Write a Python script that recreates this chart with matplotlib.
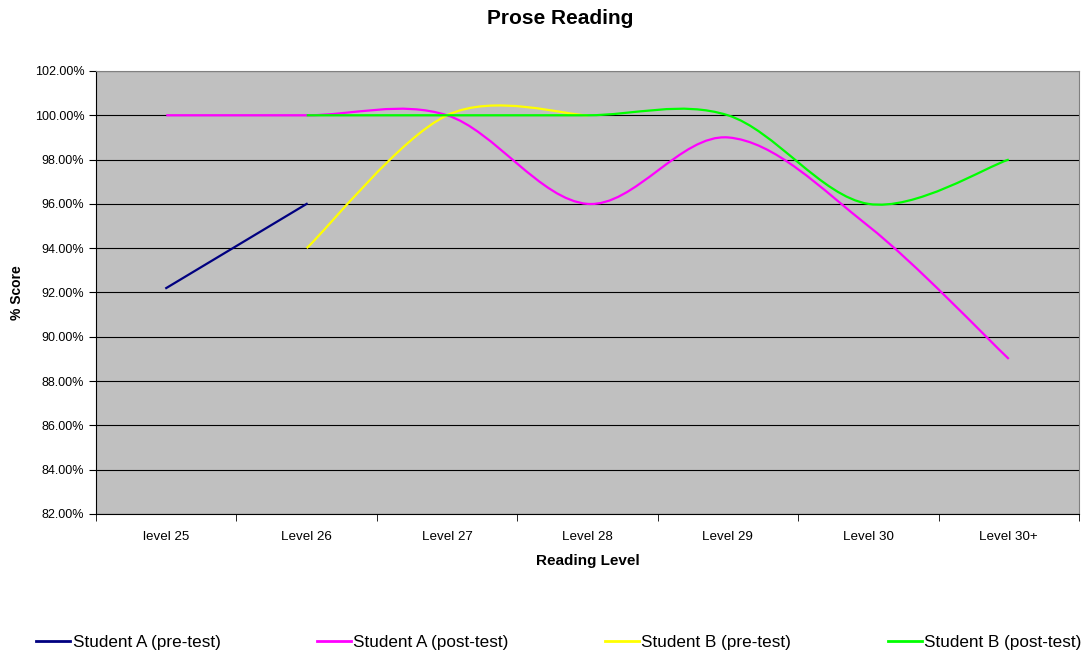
import matplotlib
matplotlib.use('Agg')
import matplotlib.pyplot as plt
from matplotlib.path import Path
from matplotlib.patches import PathPatch
from matplotlib.lines import Line2D
from matplotlib.ticker import FuncFormatter, FixedLocator
import numpy as np

plt.rcParams['font.family'] = ['Liberation Sans', 'DejaVu Sans']

# data
levels = ['level 25', 'Level 26', 'Level 27', 'Level 28', 'Level 29', 'Level 30', 'Level 30+']
a_pre = [92.2, 96.0, None, None, None, None, None]
a_post = [100.0, 100.0, 100.0, 96.0, 99.0, 95.0, 89.0]
b_pre = [None, 94.0, 100.0, 100.0, None, None, None]
b_post = [None, 100.0, 100.0, 100.0, 100.0, 96.0, 98.0]

series = [
    ('Student A (pre-test)', a_pre, '#000080', False),
    ('Student A (post-test)', a_post, '#FF00FF', True),
    ('Student B (pre-test)', b_pre, '#FFFF00', True),
    ('Student B (post-test)', b_post, '#00FF00', True),
]


def smooth_path(xs, ys):
    # excel-style smoothed line: cubic bezier with catmull-rom control points
    pts = np.column_stack([xs, ys]).astype(float)
    verts = [pts[0]]
    codes = [Path.MOVETO]
    n = len(pts)
    for i in range(n - 1):
        p0 = pts[i - 1] if i > 0 else pts[i]
        p1 = pts[i]
        p2 = pts[i + 1]
        p3 = pts[i + 2] if i + 2 < n else pts[i + 1]
        verts += [p1 + (p2 - p0) / 6.0, p2 - (p3 - p1) / 6.0, p2]
        codes += [Path.CURVE4] * 3
    return Path(verts, codes)


fig = plt.figure(figsize=(10.89, 6.53), dpi=100, facecolor='white')
ax = fig.add_axes([0.0882, 0.2129, 0.9026, 0.6784])
ax.set_facecolor('#C0C0C0')

x = np.arange(len(levels))
for name, vals, col, smooth in series:
    xs = [xi for xi, v in zip(x, vals) if v is not None]
    ys = [v for v in vals if v is not None]
    if smooth and len(xs) > 2:
        ax.add_patch(PathPatch(smooth_path(xs, ys), facecolor='none',
                               edgecolor=col, lw=1.6, zorder=3))
    else:
        ax.plot(xs, ys, color=col, lw=1.6, zorder=3)

ax.set_xlim(-0.5, len(levels) - 0.5)
ax.set_ylim(82, 102)
ax.set_yticks(np.arange(82, 102.1, 2))
ax.yaxis.set_major_formatter(FuncFormatter(lambda v, p: f'{v:.2f}%'))
ax.grid(axis='y', color='black', lw=0.8)
ax.set_axisbelow(True)

ax.set_xticks(x)
ax.set_xticklabels(levels)
ax.tick_params(axis='x', which='major', length=0, pad=12, labelsize=9.6)
ax.xaxis.set_minor_locator(FixedLocator(np.arange(-0.5, len(levels), 1.0)))
ax.tick_params(axis='x', which='minor', length=5, direction='out')
ax.tick_params(axis='y', length=5, direction='out', labelsize=9)

for s in ['top', 'right']:
    ax.spines[s].set_color('#808080')
for s in ['left', 'bottom']:
    ax.spines[s].set_color('black')

ax.set_xlabel('Reading Level', fontsize=11, fontweight='bold', labelpad=8)
ax.set_ylabel('% Score', fontsize=10, fontweight='bold', labelpad=8)
fig.text(0.514, 0.986, 'Prose Reading', ha='center', va='top',
         fontsize=15, fontweight='bold')

handles = [Line2D([], [], color=c, lw=2) for _, _, c, _ in series]
fig.legend(handles, [s[0] for s in series], loc='center left',
           bbox_to_anchor=(0.0255, 0.016), ncol=4, frameon=False,
           fontsize=12.3, handlelength=2.0, handletextpad=0.12,
           columnspacing=5.65, borderpad=0)

fig.savefig('out.png', dpi=100, facecolor='white')
